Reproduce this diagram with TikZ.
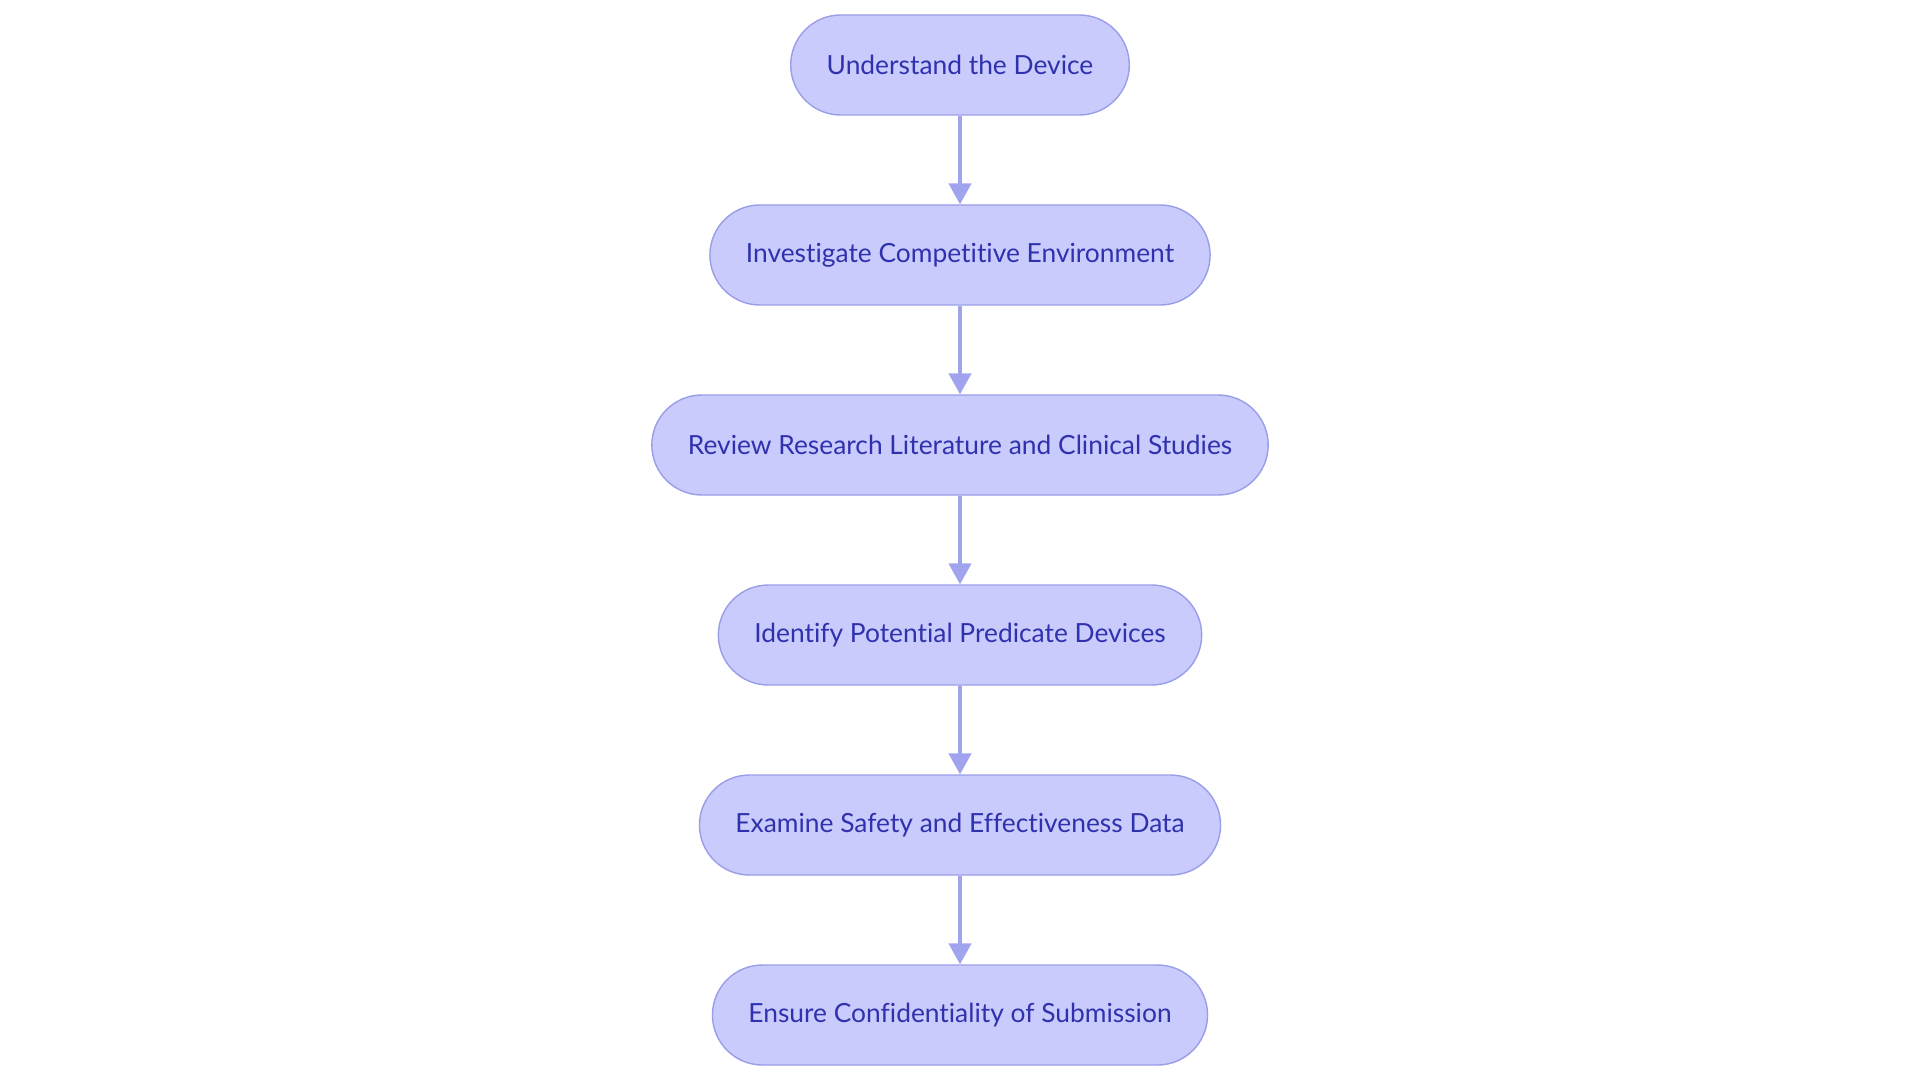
\documentclass[tikz,border=0pt]{standalone}
\usepackage{fontspec}
\setmainfont{Lato}[Ligatures=NoCommon]
\usetikzlibrary{positioning,arrows.meta}
\definecolor{boxfill}{HTML}{C9CBFC}
\definecolor{boxline}{HTML}{9A9DE8}
\definecolor{boxtext}{HTML}{2F31AD}
\definecolor{arrowline}{HTML}{A0A4EE}
\begin{document}
\begin{tikzpicture}

% definitions
\tikzstyle{stepbox} = [rectangle, rounded corners=1cm, minimum height=2cm, inner xsep=0.72cm, text centered, draw=boxline, line width=0.8pt, fill=boxfill, text=boxtext, font=\fontsize{15}{18}\selectfont]

\tikzstyle{arrow} = [-{Triangle[width=0.45cm,length=0.42cm]}, draw=arrowline, line width=1.8pt]

\useasboundingbox (0,0) rectangle (38.4,-21.6);

% the graph
\node (s0) [stepbox] at (19.2,-1.3) {Understand the Device};

\node (s1) [stepbox, below of=s0, yshift=-2.8cm] {Investigate Competitive Environment};

\node (s2) [stepbox, below of=s1, yshift=-2.8cm] {Review Research Literature and Clinical Studies};

\node (s3) [stepbox, below of=s2, yshift=-2.8cm] {Identify Potential Predicate Devices};

\node (s4) [stepbox, below of=s3, yshift=-2.8cm] {Examine Safety and Effectiveness Data};

\node (s5) [stepbox, below of=s4, yshift=-2.8cm] {Ensure Confidentiality of Submission};


\draw [arrow] (s0) -- (s1);
\draw [arrow] (s1) -- (s2);
\draw [arrow] (s2) -- (s3);
\draw [arrow] (s3) -- (s4);
\draw [arrow] (s4) -- (s5);

\end{tikzpicture}
\end{document}
